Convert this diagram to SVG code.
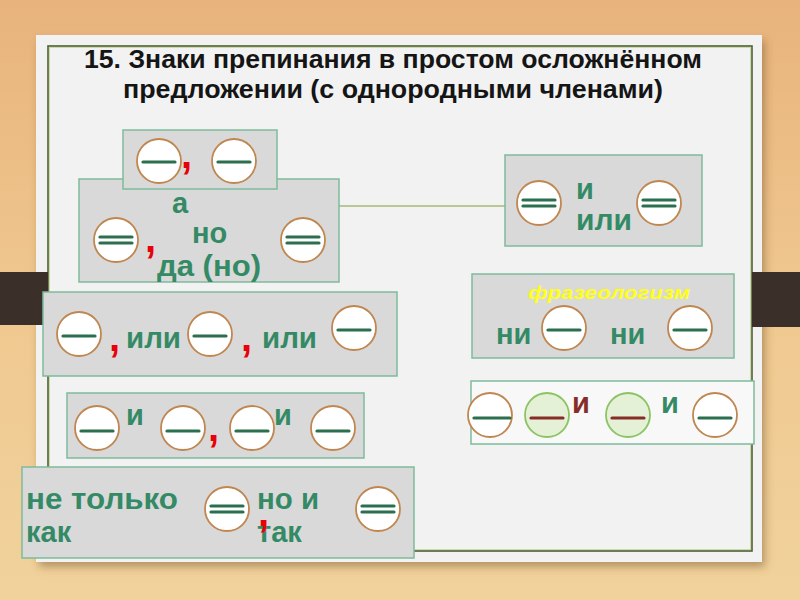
<svg xmlns="http://www.w3.org/2000/svg" width="800" height="600" viewBox="0 0 800 600">
<defs>
<linearGradient id="wood" x1="0" y1="0" x2="0" y2="1">
<stop offset="0" stop-color="#e8b37c"/>
<stop offset="0.5" stop-color="#efc88f"/>
<stop offset="1" stop-color="#f1d29c"/>
</linearGradient>
<filter id="sh" x="-5%" y="-5%" width="110%" height="115%">
<feDropShadow dx="3" dy="5" stdDeviation="4" flood-color="#6b4a20" flood-opacity="0.45"/>
</filter>
<style>
.box{fill:#d9d9d9;stroke:#7dbb9c;stroke-width:1.5}
.c{fill:#ffffff;stroke:#c08650;stroke-width:1.8}
.cg{fill:#e4f1d6;stroke:#8cc463;stroke-width:1.8}
.d{stroke:#2b6f4f;stroke-width:3.2;stroke-linecap:round}
.dr{stroke:#862d28;stroke-width:3.2;stroke-linecap:round}
.t{font-family:"Liberation Sans",Arial,sans-serif;font-weight:bold;fill:#348a65;font-size:29px}
.r{font-family:"Liberation Sans",Arial,sans-serif;font-weight:bold;fill:#e8000a;font-size:40px}
.ttl{font-family:"Liberation Sans",Arial,sans-serif;font-weight:bold;fill:#151515;font-size:25px}
.conn{stroke:#a6b878;stroke-width:1.5;fill:none}
</style>
</defs>
<rect x="0" y="0" width="800" height="600" fill="url(#wood)"/>
<rect x="0" y="272" width="62" height="53" fill="#3b3029"/>
<rect x="741" y="272" width="59" height="55" fill="#3b3029"/>
<rect x="36" y="35" width="726" height="527" fill="#f2f2f2" filter="url(#sh)"/>
<rect x="48" y="46" width="704" height="505" fill="none" stroke="#4d5e32" stroke-width="1.6"/>
<rect x="49.5" y="47.5" width="701" height="502" fill="none" stroke="#c9dca6" stroke-width="1"/>
<rect x="0" y="272" width="48" height="53" fill="#3b3029"/>
<rect x="752" y="272" width="48" height="55" fill="#3b3029"/>
<g id="title">
<text class="ttl" x="393" y="68" text-anchor="middle" textLength="618" lengthAdjust="spacingAndGlyphs">15. Знаки препинания в простом осложнённом</text>
<text class="ttl" x="393" y="98" text-anchor="middle" textLength="540" lengthAdjust="spacingAndGlyphs">предложении (с однородными членами)</text>
</g>
<g id="connectors">
<line class="conn" x1="339" y1="206" x2="505" y2="206"/>
</g>
<g id="node-ano">
<rect class="box" x="79" y="179" width="260" height="103"/>
<circle class="c" cx="116" cy="240" r="22"/>
<line class="d" x1="100" y1="237" x2="132" y2="237"/><line class="d" x1="100" y1="243" x2="132" y2="243"/>
<circle class="c" cx="303" cy="240" r="22"/>
<line class="d" x1="287" y1="237" x2="319" y2="237"/><line class="d" x1="287" y1="243" x2="319" y2="243"/>
<text class="r" x="145" y="252">,</text>
<text class="t" x="172" y="213">а</text>
<text class="t" x="192" y="243">но</text>
<text class="t" x="157" y="276" textLength="104" lengthAdjust="spacingAndGlyphs">да (но)</text>
</g>
<g id="node-comma">
<rect class="box" x="123" y="130" width="154" height="59"/>
<circle class="c" cx="159" cy="161" r="22"/>
<line class="d" x1="143" y1="162" x2="175" y2="162"/>
<circle class="c" cx="234" cy="161" r="22"/>
<line class="d" x1="218" y1="162" x2="250" y2="162"/>
<text class="r" x="181" y="168">,</text>
</g>
<g id="node-i-ili">
<rect class="box" x="505" y="155" width="197" height="91"/>
<circle class="c" cx="539" cy="203" r="22"/>
<line class="d" x1="523" y1="200" x2="555" y2="200"/><line class="d" x1="523" y1="206" x2="555" y2="206"/>
<circle class="c" cx="659" cy="203" r="22"/>
<line class="d" x1="643" y1="200" x2="675" y2="200"/><line class="d" x1="643" y1="206" x2="675" y2="206"/>
<text class="t" x="576" y="199">и</text>
<text class="t" x="576" y="230" textLength="56" lengthAdjust="spacingAndGlyphs">или</text>
</g>
<g id="node-phraseo">
<rect class="box" x="472" y="274" width="262" height="84"/>
<text x="528" y="299" font-family="'Liberation Sans',Arial,sans-serif" font-weight="bold" font-style="italic" font-size="18" fill="#ffff1a" textLength="162" lengthAdjust="spacingAndGlyphs">фразеологизм</text>
<circle class="c" cx="564" cy="328" r="22"/>
<line class="d" x1="548" y1="330" x2="580" y2="330"/>
<circle class="c" cx="690" cy="328" r="22"/>
<line class="d" x1="674" y1="330" x2="706" y2="330"/>
<text class="t" x="496" y="344">ни</text>
<text class="t" x="610" y="344">ни</text>
</g>
<g id="node-ili">
<rect class="box" x="43" y="292" width="354" height="84"/>
<circle class="c" cx="79" cy="334" r="22"/>
<line class="d" x1="63" y1="336" x2="95" y2="336"/>
<circle class="c" cx="210" cy="334" r="22"/>
<line class="d" x1="194" y1="336" x2="226" y2="336"/>
<circle class="c" cx="354" cy="328" r="22"/>
<line class="d" x1="338" y1="330" x2="370" y2="330"/>
<text class="r" x="109" y="351">,</text>
<text class="t" x="126" y="348" textLength="55" lengthAdjust="spacingAndGlyphs">или</text>
<text class="r" x="241" y="351">,</text>
<text class="t" x="262" y="348" textLength="55" lengthAdjust="spacingAndGlyphs">или</text>
</g>
<g id="node-i">
<rect class="box" x="67" y="393" width="297" height="65"/>
<circle class="c" cx="97" cy="428" r="22"/>
<line class="d" x1="81" y1="431" x2="113" y2="431"/>
<circle class="c" cx="183" cy="428" r="22"/>
<line class="d" x1="167" y1="431" x2="199" y2="431"/>
<circle class="c" cx="252" cy="428" r="22"/>
<line class="d" x1="236" y1="431" x2="268" y2="431"/>
<circle class="c" cx="333" cy="428" r="22"/>
<line class="d" x1="317" y1="431" x2="349" y2="431"/>
<text class="t" x="126" y="425" font-size="26">и</text>
<text class="t" x="274" y="425" font-size="26">и</text>
<text class="r" x="208" y="441">,</text>
</g>
<g id="node-i-i">
<rect x="471" y="381" width="283" height="63" fill="#f8f8f8" stroke="#7dbb9c" stroke-width="1.5"/>
<circle class="c" cx="490" cy="415" r="22" fill="none"/>
<line class="d" x1="474" y1="418" x2="510" y2="418"/>
<circle class="cg" cx="547" cy="415" r="22"/>
<line class="dr" x1="531" y1="418" x2="563" y2="418"/>
<text class="t" x="572" y="413" font-size="26" style="fill:#862d28">и</text>
<circle class="cg" cx="628" cy="415" r="22"/>
<line class="dr" x1="612" y1="418" x2="644" y2="418"/>
<text class="t" x="661" y="413" font-size="26">и</text>
<circle class="c" cx="715" cy="415" r="22"/>
<line class="d" x1="699" y1="418" x2="731" y2="418"/>
</g>
<g id="node-ne-tolko">
<rect class="box" x="22" y="467" width="392" height="91"/>
<text class="t" x="26" y="509" textLength="152" lengthAdjust="spacingAndGlyphs">не только</text>
<text class="t" x="26" y="542">как</text>
<circle class="c" cx="227" cy="509" r="22"/>
<line class="d" x1="211" y1="506" x2="243" y2="506"/><line class="d" x1="211" y1="512" x2="243" y2="512"/>
<text class="t" x="257" y="509" textLength="62" lengthAdjust="spacingAndGlyphs">но и</text>
<text class="t" x="257" y="542">так</text>
<text class="r" x="258" y="526" font-size="34">,</text>
<circle class="c" cx="378" cy="509" r="22"/>
<line class="d" x1="362" y1="506" x2="394" y2="506"/><line class="d" x1="362" y1="512" x2="394" y2="512"/>
</g>
</svg>
